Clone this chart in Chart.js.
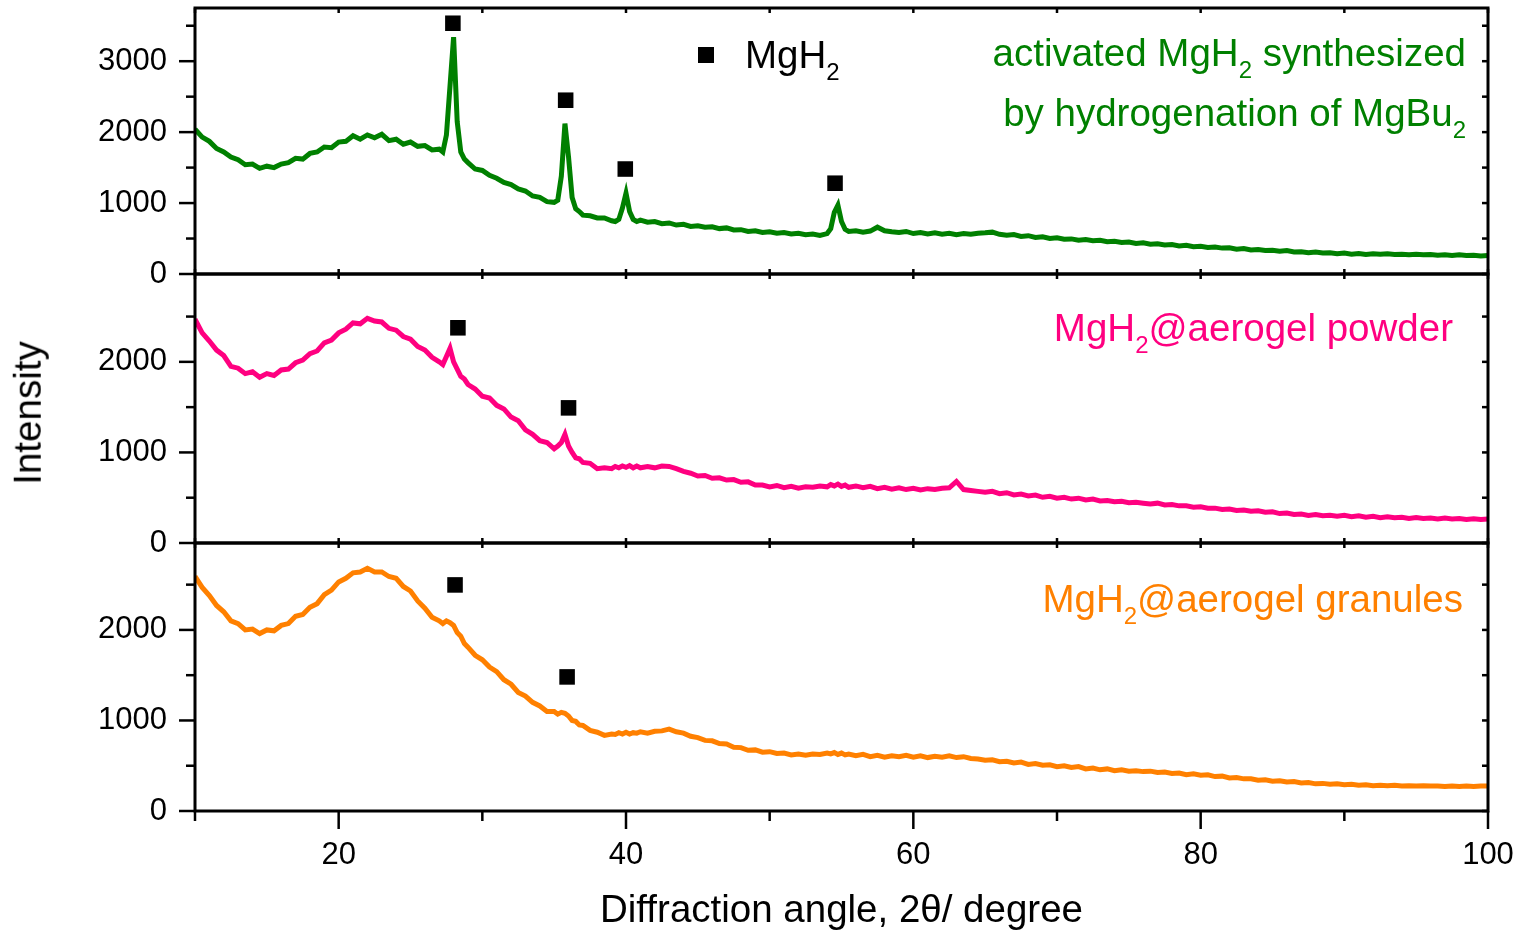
<!DOCTYPE html>
<html>
<head>
<meta charset="utf-8">
<script src="https://cdn.jsdelivr.net/npm/chart.js@4.4.1/dist/chart.umd.min.js"></script>
<style>
  body { margin: 0; background: #fff; }
  #wrap { position: relative; width: 1519px; height: 932px; overflow: hidden; background: #fff;
          font-family: 'Liberation Sans', Arial, sans-serif; }
  canvas { position: absolute; left: 0; }
  .txt { position: absolute; font-size: 38.5px; line-height: 1; white-space: nowrap; }
  .sub { font-size: 24px; position: relative; top: 12px; }
</style>
</head>
<body>
<div id="wrap">
  <canvas id="panel1" width="1519" height="330" style="top:-30px"></canvas>
  <canvas id="panel2" width="1519" height="330" style="top:244px"></canvas>
  <canvas id="panel3" width="1519" height="419" style="top:513px"></canvas>

  <div class="txt" style="right:53px; top:34px; color:#008000; text-align:right">activated MgH<span class="sub">2</span> synthesized</div>
  <div class="txt" style="right:53px; top:94px; color:#008000; text-align:right">by hydrogenation of MgBu<span class="sub">2</span></div>
  <div style="position:absolute; left:698px; top:47px; width:16px; height:16px; background:#000"></div>
  <div class="txt" style="left:745px; top:36px; color:#000">MgH<span class="sub">2</span></div>
  <div class="txt" style="right:66px; top:309px; color:#ff0080; text-align:right">MgH<span class="sub">2</span>@aerogel powder</div>
  <div class="txt" style="right:56px; top:580px; color:#ff8000; text-align:right">MgH<span class="sub">2</span>@aerogel granules</div>
  <div class="txt" style="left:28px; top:413px; color:#000; transform:translate(-50%,-50%) rotate(-90deg)">Intensity</div>
</div>
<script>
// diffraction angle (2theta), shared by all three patterns
const angles = [
  10,10.5,11,11.5,12,12.5,13,13.5,14,14.5,15,15.5,16,16.5,17,17.5,18,18.5,19,19.5,
  20,20.5,21,21.5,22,22.5,23,23.5,24,24.5,25,25.5,26,26.5,27,
  27.25,27.5,27.75,28,28.25,28.5,28.75,29,
  29.5,30,30.5,31,31.5,32,32.5,33,33.5,34,34.5,35,
  35.25,35.5,35.75,36,36.25,36.5,36.75,37,
  37.5,38,38.5,39,
  39.25,39.5,39.75,40,40.25,40.5,40.75,41,
  41.5,42,42.5,43,43.5,44,44.5,45,45.5,46,46.5,47,47.5,48,48.5,49,49.5,50,50.5,51,51.5,52,52.5,53,53.5,54,
  54.25,54.5,54.75,55,55.25,55.5,
  56,56.5,57,57.5,58,58.5,59,59.5,60,60.5,
  61,61.5,62,62.5,63,63.5,64,64.5,65,65.5,
  66,66.5,67,67.5,68,68.5,69,69.5,70,70.5,
  71,71.5,72,72.5,73,73.5,74,74.5,75,75.5,
  76,76.5,77,77.5,78,78.5,79,79.5,80,80.5,
  81,81.5,82,82.5,83,83.5,84,84.5,85,85.5,
  86,86.5,87,87.5,88,88.5,89,89.5,90,90.5,
  91,91.5,92,92.5,93,93.5,94,94.5,95,95.5,
  96,96.5,97,97.5,98,98.5,99,99.5,100
];

const activatedCounts = [
  2040,1930,1870,1770,1720,1650,1610,1540,1550,1490,1520,1500,1550,1570,1630,1620,1700,1720,1790,1780,
  1860,1870,1950,1900,1960,1920,1970,1880,1900,1830,1860,1800,1810,1750,1760,
  1720,1960,2650,3340,2150,1720,1620,1570,
  1480,1460,1390,1350,1290,1260,1200,1170,1100,1080,1020,1010,
  1040,1380,2120,1650,1080,920,880,830,
  820,790,790,750,
  740,770,930,1140,880,770,740,760,
  730,740,710,720,690,700,670,680,660,665,640,650,620,625,600,610,585,595,575,585,565,575,555,565,545,570,
  640,870,970,740,630,600,
  610,590,605,660,610,595,585,600,570,585,
  565,580,560,575,555,570,560,575,580,590,
  560,545,555,530,540,515,525,500,510,490,
  495,475,485,470,475,455,460,445,450,430,
  440,420,425,410,415,395,405,385,390,375,
  380,365,370,350,360,340,345,330,335,320,
  330,310,315,300,310,295,300,285,295,280,
  290,275,285,280,285,275,280,270,280,270,
  275,265,270,260,270,260,265,255,260
];

const powderCounts = [
  2470,2320,2230,2130,2070,1950,1930,1870,1890,1830,1870,1850,1910,1920,1990,2020,2090,2120,2210,2240,
  2320,2360,2430,2420,2480,2450,2440,2370,2350,2280,2250,2170,2130,2050,2000,
  1970,2060,2150,2000,1920,1840,1810,1750,
  1700,1620,1600,1520,1480,1390,1350,1250,1200,1130,1110,1040,
  1070,1110,1200,1070,1000,940,930,890,
  880,820,830,820,
  845,830,850,835,855,830,850,830,
  845,830,850,845,820,790,770,740,745,715,720,695,700,670,675,640,640,620,635,610,625,605,620,615,630,620,
  645,630,650,625,640,615,
  630,610,625,600,615,595,610,590,605,585,
  600,590,605,610,680,590,580,570,560,570,
  545,555,530,540,520,530,505,515,495,505,
  485,495,475,485,465,470,455,460,445,450,
  440,430,440,420,425,410,410,395,400,385,
  385,370,375,360,365,350,355,340,345,325,
  330,315,320,305,315,300,305,295,305,290,
  300,285,295,280,290,280,285,270,280,270,
  275,265,275,265,270,260,268,260,265
];

const granuleCounts = [
  2590,2470,2380,2270,2200,2100,2070,2000,2010,1960,2000,1990,2050,2070,2150,2170,2250,2290,2390,2440,
  2530,2570,2630,2640,2680,2640,2640,2590,2570,2480,2430,2320,2240,2140,2100,
  2070,2100,2080,2050,1970,1930,1850,1810,
  1720,1670,1590,1540,1450,1400,1310,1270,1200,1160,1100,1100,
  1070,1090,1080,1050,1000,990,950,945,
  890,870,835,850,
  845,865,850,870,850,865,860,875,
  860,880,885,905,875,860,825,810,780,775,745,740,705,700,670,675,650,655,635,640,620,630,615,630,625,640,
  630,645,625,640,620,630,
  610,625,600,615,595,610,600,615,595,610,
  590,605,595,610,590,600,580,575,560,565,
  545,550,530,540,515,525,505,510,490,500,
  480,490,465,475,455,465,445,455,440,445,
  435,440,425,430,415,420,400,410,395,400,
  380,385,365,370,355,355,340,345,330,335,
  320,325,310,315,300,305,295,300,290,295,
  285,290,280,285,280,285,275,280,275,280,
  275,275,270,275,270,275,270,275,275
];

// MgH2 reflection markers (angle, height)
const activatedMarkAngles = [27.95, 35.8, 39.95, 54.55];
const activatedMarkCounts = [3535, 2450, 1480, 1280];
const powderMarkAngles = [28.3, 36.0];
const powderMarkCounts = [2376, 1492];
const granuleMarkAngles = [28.1, 35.9];
const granuleMarkCounts = [2497, 1481];

// axis ticks
const xMajorTicks = [20, 40, 60, 80, 100];
const xMinorTicks = [10, 30, 50, 70, 90];
const yTicksTop = [0, 1000, 2000, 3000];
const yMinorTop = [500, 1500, 2500, 3500];
const yTicksLow = [0, 1000, 2000];
const yMinorLow = [500, 1500, 2500];

Chart.defaults.font.family = "'Liberation Sans', Arial, sans-serif";
Chart.defaults.color = '#000';

const frameTicks = {
  id: 'frameTicks',
  afterDatasetsDraw(chart, args, opts) {
    const ctx = chart.ctx;
    const a = chart.chartArea;
    const xs = chart.scales.x, ys = chart.scales.y;
    const seg = (x1, y1, x2, y2) => { ctx.beginPath(); ctx.moveTo(x1, y1); ctx.lineTo(x2, y2); ctx.stroke(); };
    ctx.save();
    ctx.strokeStyle = '#000';
    ctx.lineWidth = 2.5;
    opts.yMajor.forEach(v => {
      const p = ys.getPixelForValue(v);
      seg(a.left - 16, p, a.left, p);
      seg(a.right - 6, p, a.right, p);
    });
    opts.yMinor.forEach(v => {
      const p = ys.getPixelForValue(v);
      seg(a.left - 9, p, a.left, p);
      seg(a.right - 6, p, a.right, p);
    });
    xMajorTicks.concat(xMinorTicks).forEach(v => {
      const p = xs.getPixelForValue(v);
      seg(p, a.top, p, a.top + 5);
      if (!opts.outer) seg(p, a.bottom, p, a.bottom - 5);
    });
    if (opts.outer) {
      xMajorTicks.forEach(v => { const p = xs.getPixelForValue(v); seg(p, a.bottom, p, a.bottom + 18); });
      xMinorTicks.forEach(v => { const p = xs.getPixelForValue(v); seg(p, a.bottom, p, a.bottom + 10); });
    }
    ctx.lineWidth = 3;
    ctx.strokeRect(a.left, a.top, a.right - a.left, a.bottom - a.top);
    ctx.restore();
  }
};

function makePanel(id, counts, color, yMax, yMajor, yMinor, markAngles, markCounts, padding, isBottom) {
  return new Chart(document.getElementById(id), {
    type: 'line',
    data: {
      datasets: [
        {
          data: angles.map((a, i) => ({x: a, y: counts[i]})),
          borderColor: color,
          borderWidth: 5,
          pointRadius: 0,
          tension: 0,
          fill: false
        },
        {
          type: 'scatter',
          data: markAngles.map((a, i) => ({x: a, y: markCounts[i]})),
          pointStyle: 'rect',
          pointRadius: 11,
          backgroundColor: '#000',
          borderWidth: 0,
          showLine: false
        }
      ]
    },
    options: {
      responsive: false,
      animation: false,
      devicePixelRatio: 1,
      events: [],
      layout: { padding: padding },
      plugins: {
        legend: { display: false },
        tooltip: { enabled: false },
        frameTicks: { yMajor: yMajor, yMinor: yMinor, outer: isBottom }
      },
      scales: {
        x: {
          type: 'linear',
          min: 10,
          max: 100,
          display: isBottom,
          grid: { display: false, drawTicks: false },
          border: { display: false },
          afterBuildTicks: s => { s.ticks = xMajorTicks.map(v => ({value: v})); },
          afterFit: s => {
            if (isBottom) s.height = 121;
            s.paddingLeft = 0;
            s.paddingRight = 0;
          },
          ticks: { padding: 26, font: { size: 31 }, color: '#000', maxRotation: 0, callback: v => String(v) },
          title: {
            display: true,
            text: 'Diffraction angle, 2θ/ degree',
            font: { size: 38.5, lineHeight: 1.05 },
            color: '#000',
            padding: { top: 0, bottom: 0 }
          }
        },
        y: {
          type: 'linear',
          min: 0,
          max: yMax,
          grid: { display: false, drawTicks: false },
          border: { display: false },
          afterBuildTicks: s => { s.ticks = yMajor.map(v => ({value: v})); },
          afterFit: s => {
            s.width = 195;
            s.paddingTop = 0;
            s.paddingBottom = 0;
          },
          ticks: { padding: 28, font: { size: 31 }, color: '#000', callback: v => String(v) }
        }
      }
    },
    plugins: [frameTicks]
  });
}

makePanel('panel1', activatedCounts, '#008000', 3750, yTicksTop, yMinorTop,
  activatedMarkAngles, activatedMarkCounts, {top: 38, bottom: 26, left: 0, right: 31}, false);
makePanel('panel2', powderCounts, '#ff0080', 2970, yTicksLow, yMinorLow,
  powderMarkAngles, powderMarkCounts, {top: 30, bottom: 31, left: 0, right: 31}, false);
makePanel('panel3', granuleCounts, '#ff8000', 2960, yTicksLow, yMinorLow,
  granuleMarkAngles, granuleMarkCounts, {top: 30, bottom: 0, left: 0, right: 31}, true);
</script>
</body>
</html>
